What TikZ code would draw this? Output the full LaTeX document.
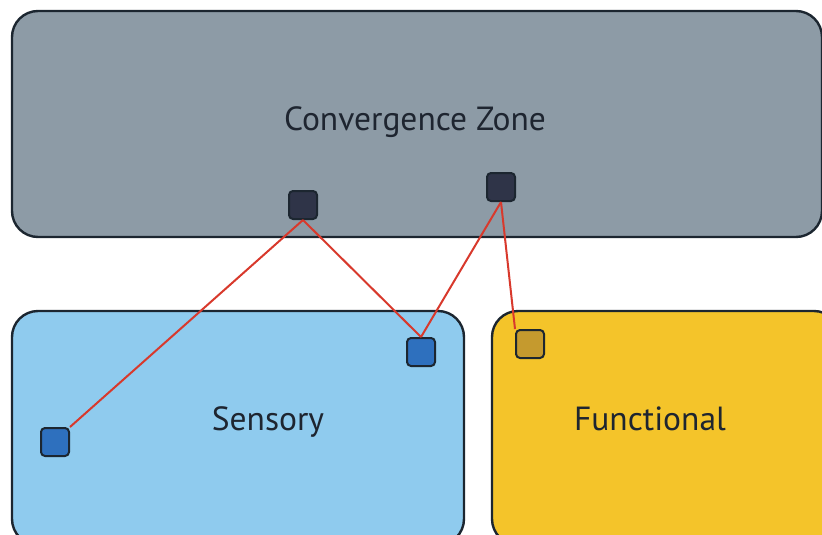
\documentclass[tikz,border=0pt]{standalone}
\usepackage{fontspec}
\setmainfont{PT Sans}
\begin{document}
\begin{tikzpicture}[x=1pt,y=-1pt,
  region/.style={draw=edgecol, line width=2.4pt, rounded corners=26pt},
  port/.style={draw=edgecol, line width=2pt, rounded corners=4pt, minimum size=28pt, inner sep=0pt},
  link/.style={draw=linkred, line width=2pt},
  label/.style={text=labelcol, anchor=base, font=\fontsize{33.5}{36}\selectfont}]
\definecolor{edgecol}{HTML}{1C2630}
\definecolor{zonegray}{HTML}{8D9BA6}
\definecolor{sensblue}{HTML}{8FCBEE}
\definecolor{funcyellow}{HTML}{F4C42A}
\definecolor{navy}{HTML}{2F3448}
\definecolor{portblue}{HTML}{2E70BE}
\definecolor{portgold}{HTML}{C59A2E}
\definecolor{linkred}{HTML}{D8392C}
\definecolor{labelcol}{HTML}{1E2530}
\useasboundingbox (0,0) rectangle (822,535);
\clip (0,0) rectangle (822,535);
% three regions
\draw[region, fill=zonegray] (12,11) rectangle (822,237);
\draw[region, fill=sensblue] (12,311) rectangle (464,545);
\draw[region, fill=funcyellow] (492,311) rectangle (840,545);
% region labels
\node[label] (cz) at (415,130) {Convergence Zone};
\node[label] (sens) at (268,430) {Sensory};
\node[label] (func) at (650,430) {Functional};
% ports
\node[port, fill=navy] (z1) at (303,205) {};
\node[port, fill=navy] (z2) at (501,187) {};
\node[port, fill=portblue] (s1) at (55,442) {};
\node[port, fill=portblue] (s2) at (421,352) {};
\node[port, fill=portgold] (f1) at (530,344) {};
% connections
\draw[link] (z1.south) -- (s1.north east);
\draw[link] (z1.south) -- (s2.north);
\draw[link] (z2.south) -- (s2.north);
\draw[link] (z2.south) -- (f1.north west);
\end{tikzpicture}
\end{document}
